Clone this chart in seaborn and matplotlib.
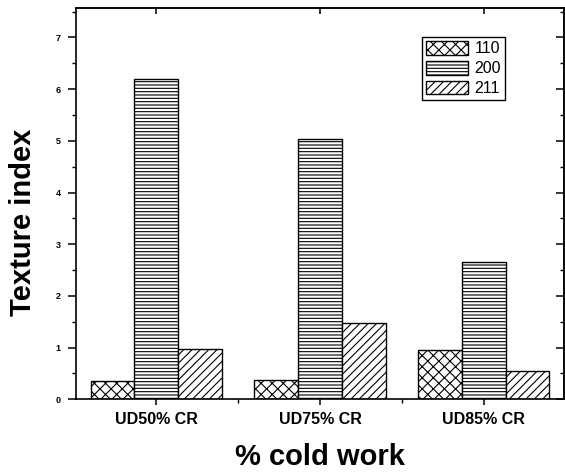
import matplotlib
matplotlib.use("Agg")
import matplotlib.pyplot as plt
import pandas as pd
import seaborn as sns
from matplotlib.patches import Patch
from matplotlib.ticker import MultipleLocator, FixedLocator, NullLocator

# Texture index per cold-work condition and diffraction plane
conditions = ["UD50% CR", "UD75% CR", "UD85% CR"]
planes = ["110", "200", "211"]
tex_110 = [0.35, 0.38, 0.95]
tex_200 = [6.19, 5.04, 2.65]
tex_211 = [0.98, 1.47, 0.55]
y_ticks = [0, 1, 2, 3, 4, 5, 6, 7]

hatches = {"110": "xxx", "200": "-----", "211": "////"}

df = pd.DataFrame({
    "condition": conditions * 3,
    "plane": [p for p in planes for _ in conditions],
    "texture": tex_110 + tex_200 + tex_211,
})

sns.set_style("ticks")
plt.rcParams["font.family"] = ["Liberation Sans", "DejaVu Sans"]
plt.rcParams["text.color"] = "black"
plt.rcParams["axes.labelcolor"] = "black"
plt.rcParams["xtick.color"] = "black"
plt.rcParams["ytick.color"] = "black"
plt.rcParams["hatch.linewidth"] = 0.8
plt.rcParams["hatch.color"] = "black"
plt.rcParams["axes.linewidth"] = 1.2

fig = plt.figure(figsize=(5.65, 4.73), dpi=100)
ax = fig.add_axes([76 / 565, 1 - 399.3 / 473, 488 / 565, 391.3 / 473])

sns.barplot(data=df, x="condition", y="texture", hue="plane",
            order=conditions, hue_order=planes,
            palette=["white"] * 3, saturation=1, width=0.8,
            edgecolor="black", linewidth=1.0, errorbar=None,
            legend=False, ax=ax)

for cont, p in zip(ax.containers, planes):
    for bar in cont:
        bar.set_hatch(hatches[p])
        bar.set_edgecolor("black")

ax.set_xlim(-0.49, 2.49)
ax.set_ylim(0, 7.57)

# left / bottom ticks point outward
ax.yaxis.set_major_locator(FixedLocator(y_ticks))
ax.yaxis.set_minor_locator(MultipleLocator(0.5))
ax.xaxis.set_minor_locator(FixedLocator([0.5, 1.5]))
ax.tick_params(axis="y", which="major", direction="out", length=6, width=1.1,
               pad=5, labelsize=6.5, color="black", labelcolor="black")
ax.tick_params(axis="y", which="minor", direction="out", length=3, width=1.0,
               color="black")
ax.tick_params(axis="x", which="major", direction="out", length=4.5, width=1.1,
               pad=4.5, labelsize=11.5, color="black", labelcolor="black")
ax.tick_params(axis="x", which="minor", direction="out", length=3, width=1.0,
               color="black")
for lbl in ax.get_yticklabels() + ax.get_xticklabels():
    lbl.set_fontweight("bold")

# right / top ticks point inward
right = ax.secondary_yaxis("right")
right.yaxis.set_major_locator(FixedLocator(y_ticks))
right.yaxis.set_minor_locator(MultipleLocator(0.5))
right.tick_params(which="major", direction="in", length=6, width=1.1, labelright=False)
right.tick_params(which="minor", direction="in", length=3, width=1.0)
top = ax.secondary_xaxis("top")
top.xaxis.set_major_locator(FixedLocator([0, 1, 2]))
top.xaxis.set_minor_locator(NullLocator())
top.tick_params(which="major", direction="in", length=4.5, width=1.1, labeltop=False)

for s in ax.spines.values():
    s.set_visible(True)
    s.set_color("black")
    s.set_linewidth(1.2)

ax.set_xlabel("% cold work", fontsize=21, fontweight="bold", color="black")
ax.set_ylabel("Texture index", fontsize=21, fontweight="bold", color="black")
ax.xaxis.set_label_coords(0.5, -0.112)
ax.yaxis.set_label_coords(-0.08, 0.453)

handles = [Patch(facecolor="white", edgecolor="black", hatch=hatches[p], label=p)
           for p in planes]
leg = ax.legend(handles=handles, loc="upper left", bbox_to_anchor=(0.710, 0.925),
                fontsize=11.5, frameon=True, fancybox=False, framealpha=1,
                edgecolor="black", handlelength=2.6, handleheight=0.9,
                handletextpad=0.4, labelspacing=0.3, borderpad=0.25,
                borderaxespad=0)
leg.get_frame().set_linewidth(1.0)

fig.savefig("out.png", dpi=100)
